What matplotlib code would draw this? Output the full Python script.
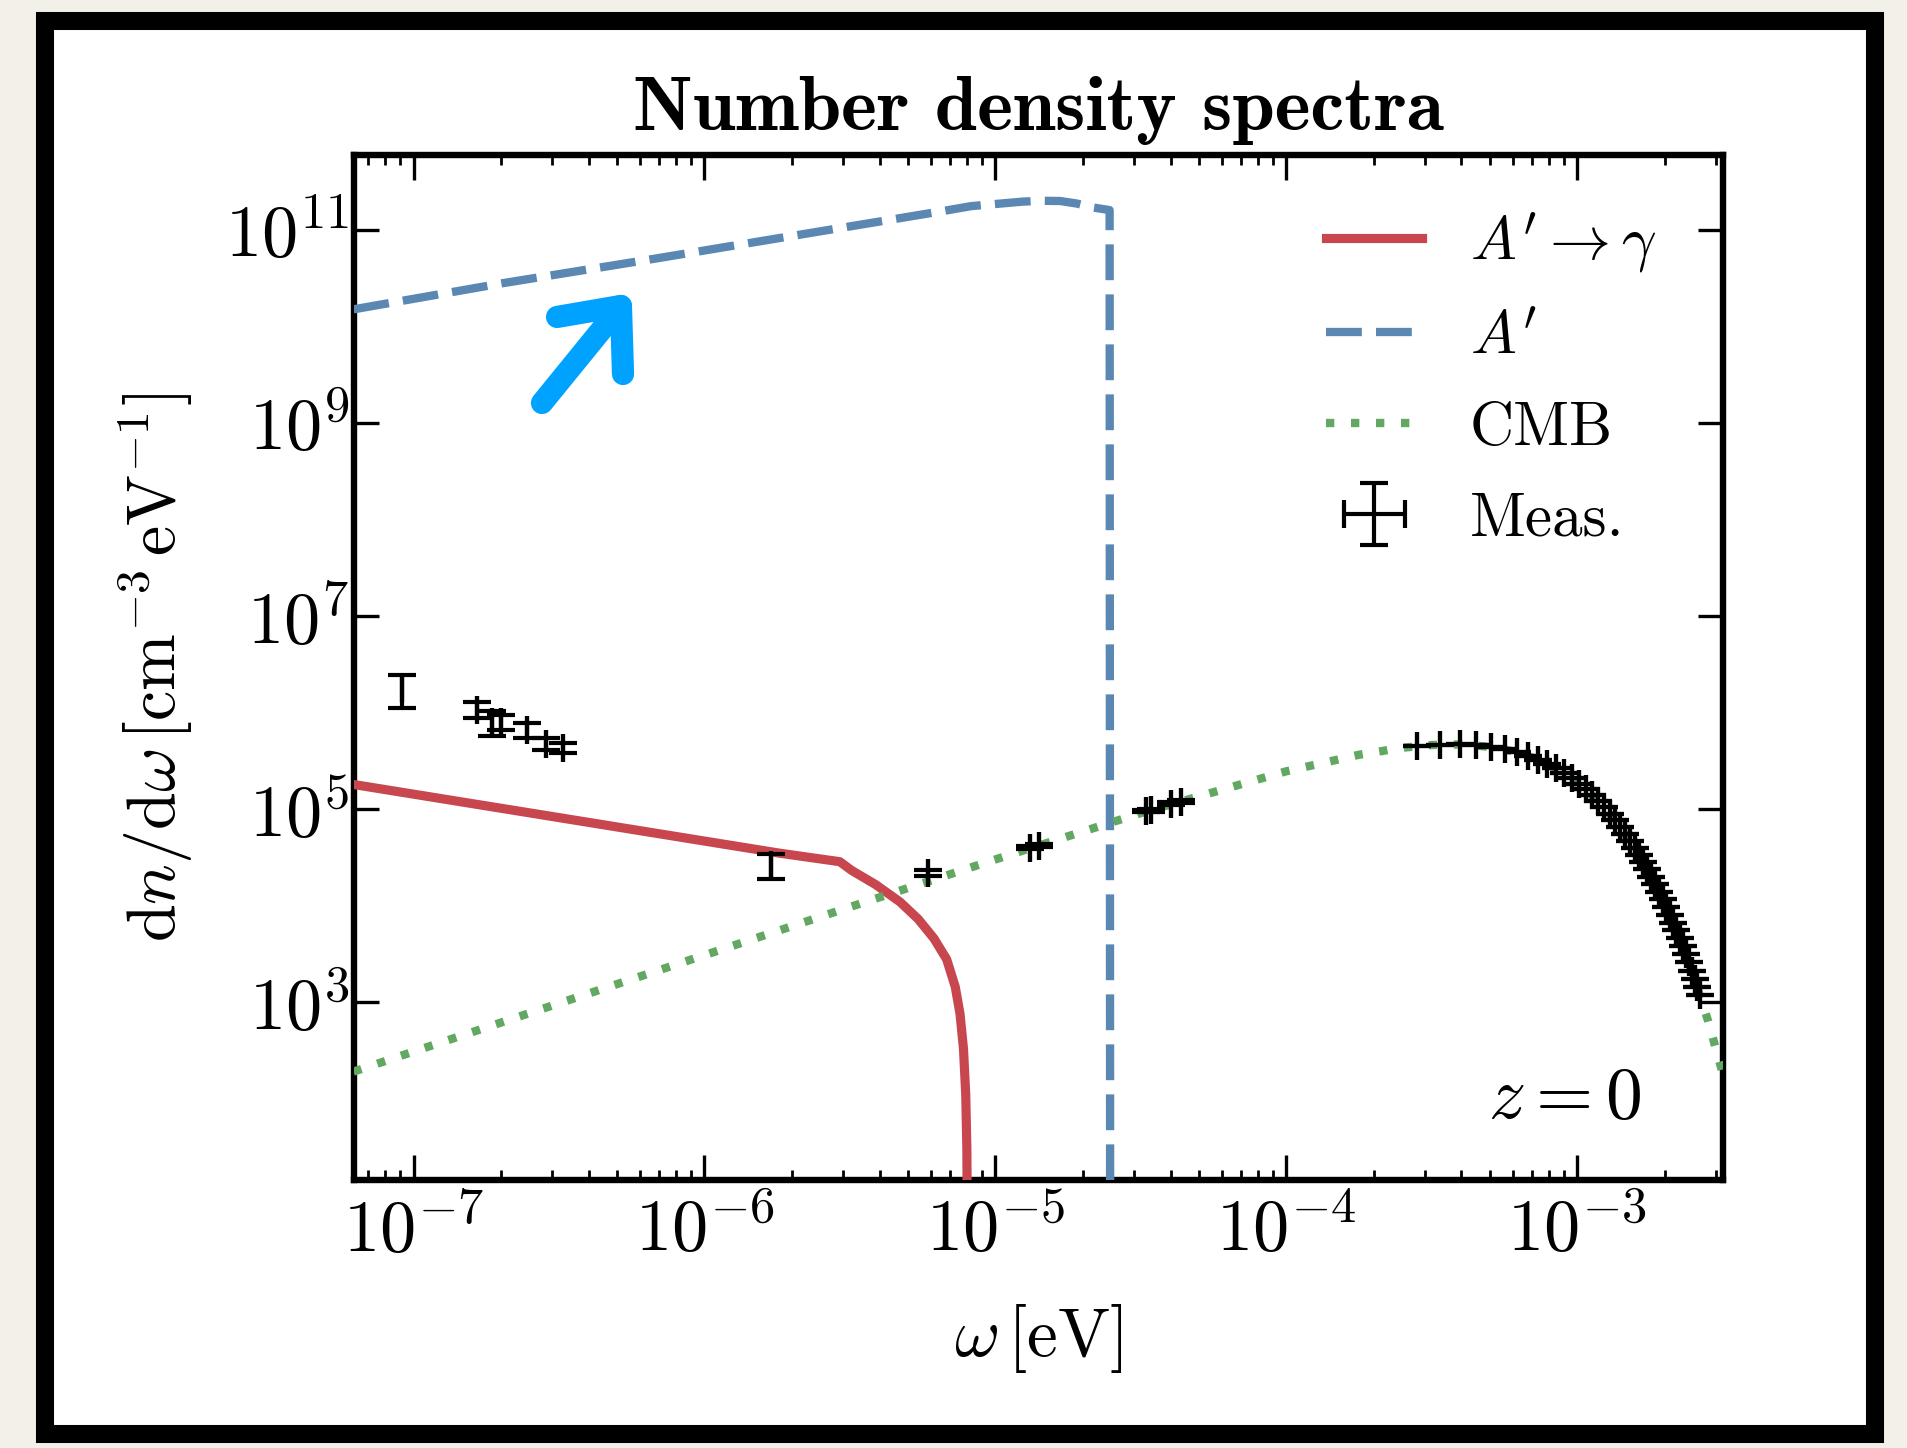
import matplotlib
matplotlib.use('Agg')
import matplotlib.pyplot as plt
from matplotlib.lines import Line2D
from matplotlib.patches import Rectangle
from matplotlib.ticker import FixedLocator, NullLocator, LogLocator

plt.rcParams.update({
    'font.family': 'serif',
    'font.serif': ['cmr10'],
    'mathtext.fontset': 'cm',
    'axes.unicode_minus': False,
    'axes.formatter.use_mathtext': True,
    'font.size': 24,
})

# A' -> gamma (converted photons)
red_w = [6.22e-8, 1.82e-6, 2.92e-6, 3.20e-6, 3.88e-6, 4.70e-6, 5.43e-6, 6.15e-6, 6.80e-6,
         7.28e-6, 7.56e-6, 7.77e-6, 7.91e-6, 7.98e-6, 8.0e-6]
red_n = [1.81e5, 3.51e4, 2.87e4, 2.34e4, 1.66e4, 1.10e4, 7.3e3, 4.6e3, 2.8e3,
         1.45e3, 7.6e2, 3.3e2, 1.1e2, 30, 8]

# dark photon spectrum A'
blue_w = [6.22e-8, 2.03e-7, 6.82e-7, 2.29e-6, 6.40e-6, 8.26e-6, 1.24e-5, 1.45e-5, 1.67e-5,
          1.91e-5, 2.12e-5, 2.47e-5, 2.48e-5]
blue_n = [1.51e10, 2.82e10, 5.08e10, 9.29e10, 1.55e11, 1.77e11, 1.97e11, 2.01e11, 2.0e11,
          1.88e11, 1.73e11, 1.61e11, 8]

# CMB
cmb_w = [6.22e-8, 1e-7, 3.16e-7, 1e-6, 3.16e-6, 1e-5, 3.16e-5, 1e-4, 1.78e-4, 2.51e-4,
         3.16e-4, 3.98e-4, 5.01e-4, 5.62e-4, 6.31e-4, 7.08e-4, 7.94e-4, 8.91e-4, 1e-3,
         1.12e-3, 1.26e-3, 1.41e-3, 1.58e-3, 1.78e-3, 2.0e-3, 2.24e-3, 2.51e-3, 2.82e-3, 3.17e-3]
cmb_n = [192, 310, 979, 3.09e3, 9.73e3, 3.03e4, 9.15e4, 2.48e5, 3.68e5, 4.35e5,
         4.64e5, 4.70e5, 4.45e5, 4.19e5, 3.84e5, 3.41e5, 2.93e5, 2.41e5, 1.89e5,
         1.41e5, 9.87e4, 6.45e4, 3.89e4, 2.15e4, 1.07e4, 4.80e3, 1.89e3, 6.4e2, 1.8e2]

# measurements: radio / ARCADE
radio_w = [9.1e-8, 1.65e-7, 1.86e-7, 2.0e-7, 2.45e-7, 2.85e-7, 3.27e-7, 1.69e-6, 5.87e-6,
           1.32e-5, 1.41e-5, 3.30e-5, 3.44e-5, 4.02e-5, 4.34e-5]
radio_n = [1.8e6, 1.08e6, 8.1e5, 8.0e5, 6.7e5, 4.77e5, 4.35e5, 2.66e4, 2.2e4,
           4.0e4, 4.2e4, 9.6e4, 9.8e4, 1.14e5, 1.2e5]
radio_err = [6.7e5, 2.0e5, 2.3e5, 1.4e5, 1.2e5, 6.7e4, 5.6e4, 7.5e3, 1.5e3,
             1.5e3, 1.5e3, 3e3, 3e3, 4e3, 4e3]

# measurements: FIRAS
firas_w = [2.81e-4, 3.37e-4, 3.94e-4, 4.50e-4, 5.06e-4, 5.63e-4, 6.19e-4, 6.76e-4, 7.31e-4,
           7.87e-4, 8.44e-4, 9.00e-4, 9.56e-4, 1.013e-3, 1.069e-3, 1.126e-3, 1.182e-3,
           1.237e-3, 1.294e-3, 1.350e-3, 1.406e-3, 1.463e-3, 1.519e-3, 1.576e-3, 1.632e-3,
           1.687e-3, 1.744e-3, 1.800e-3, 1.856e-3, 1.913e-3, 1.969e-3, 2.026e-3, 2.082e-3,
           2.137e-3, 2.194e-3, 2.250e-3, 2.307e-3, 2.363e-3, 2.419e-3, 2.476e-3, 2.532e-3,
           2.588e-3, 2.645e-3]
firas_n = [4.52e5, 4.68e5, 4.70e5, 4.61e5, 4.43e5, 4.18e5, 3.90e5, 3.59e5, 3.28e5,
           2.97e5, 2.66e5, 2.37e5, 2.09e5, 1.84e5, 1.61e5, 1.40e5, 1.21e5,
           1.05e5, 8.96e4, 7.68e4, 6.57e4, 5.58e4, 4.74e4, 4.00e4, 3.38e4,
           2.85e4, 2.39e4, 2.01e4, 1.68e4, 1.40e4, 1.17e4, 9.73e3, 8.10e3,
           6.73e3, 5.57e3, 4.62e3, 3.81e3, 3.15e3, 2.60e3, 2.14e3, 1.76e3,
           1.45e3, 1.19e3]

meas_w = radio_w + firas_w
meas_n = radio_n + firas_n
meas_err = radio_err + [0] * len(firas_w)

fig = plt.figure(figsize=(9.535, 7.24), dpi=200, facecolor='#f3f0ea')

# white card with a heavy black frame
fig.add_artist(Rectangle((0.0236, 0.0097), 0.9596, 0.9758, transform=fig.transFigure,
                         facecolor='white', edgecolor='black', lw=6.5, zorder=0))

ax = fig.add_axes([0.1854, 0.1851, 0.7181, 0.7079])
ax.set_facecolor('white')

ax.plot(red_w, red_n, color='#c8474e', lw=3.3, label=r"$A' \rightarrow \gamma$", zorder=3)
ax.plot(blue_w, blue_n, color='#5a88b3', lw=3.0, dashes=(4.3, 1.7), label=r"$A'$", zorder=3)
ax.plot(cmb_w, cmb_n, color='#62a862', lw=3.0, dashes=(1, 2.0), label='CMB', zorder=4)
ax.errorbar(meas_w, meas_n, yerr=meas_err, xerr=[0] * len(meas_w), fmt='none',
            ecolor='black', elinewidth=1.5, capsize=5, capthick=1.5, label='Meas.', zorder=5)

ax.set_xscale('log')
ax.set_yscale('log')
ax.set_xlim(6.22e-8, 3.17e-3)
ax.set_ylim(14.5, 6e11)

ax.yaxis.set_major_locator(FixedLocator([1e3, 1e5, 1e7, 1e9, 1e11]))
ax.yaxis.set_minor_locator(NullLocator())
ax.xaxis.set_major_locator(LogLocator(base=10))
ax.xaxis.set_minor_locator(LogLocator(base=10, subs=range(2, 10)))

ax.tick_params(which='both', direction='in', top=True, right=True, labelsize=26)
ax.tick_params(which='major', length=9, width=1.2)
ax.tick_params(which='minor', length=3.5, width=1.0)
ax.tick_params(axis='x', pad=6)
ax.tick_params(axis='y', pad=1.5)
for s in ax.spines.values():
    s.set_linewidth(2.3)

ax.set_xlabel(r'$\omega\,[\mathrm{eV}]$', fontsize=25, labelpad=13)
ax.set_ylabel(r'$\mathrm{d}n/\mathrm{d}\omega\,[\mathrm{cm}^{-3}\,\mathrm{eV}^{-1}]$',
              fontsize=24.5, labelpad=11)
ax.set_title('Number density spectra', fontfamily='cmb10', fontsize=27.5, pad=9)

ax.text(0.94, 0.078, r'$z = 0$', transform=ax.transAxes, ha='right', va='center', fontsize=26.5)

ax.legend(loc='upper left', bbox_to_anchor=(0.6926, 0.970), borderaxespad=0, frameon=False,
          fontsize=22, handlelength=1.56, handletextpad=0.79, labelspacing=0.58)

# blue arrow pointing at the A' curve
fig.add_artist(Line2D([0.2842, 0.3256], [0.7217, 0.7887], transform=fig.transFigure,
                      color='#00a2ff', lw=8, solid_capstyle='round'))
fig.add_artist(Line2D([0.2921, 0.3256, 0.3267], [0.7811, 0.7887, 0.7417], transform=fig.transFigure,
                      color='#00a2ff', lw=8, solid_capstyle='round', solid_joinstyle='round'))

fig.savefig('out.png', dpi=200, facecolor=fig.get_facecolor())
